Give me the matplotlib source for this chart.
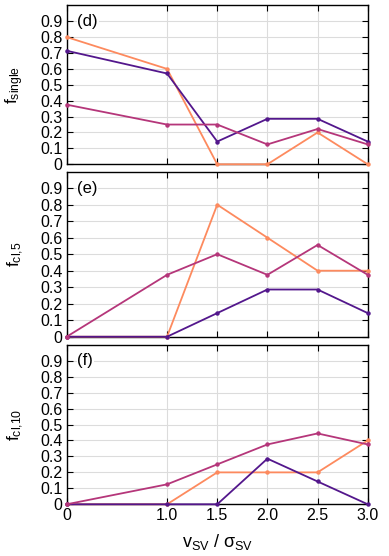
import numpy as np
import matplotlib
matplotlib.use("Agg")
import matplotlib.pyplot as plt

plt.rcParams["font.family"] = ["Liberation Sans", "DejaVu Sans"]
plt.rcParams["mathtext.fontset"] = "custom"
plt.rcParams["mathtext.rm"] = "Liberation Sans"
plt.rcParams["mathtext.it"] = "Liberation Sans"

# x values (v_SV / sigma_SV)
x = [0, 1.0, 1.5, 2.0, 2.5, 3.0]
xtick_labels = ["0", "1.0", "1.5", "2.0", "2.5", "3.0"]

# panel (d): f_single
d_orange = [0.8, 0.6, 0.0, 0.0, 0.2, 0.0]
d_purple = [0.714, 0.571, 0.143, 0.286, 0.286, 0.143]
d_magenta = [0.375, 0.25, 0.25, 0.125, 0.222, 0.125]

# panel (e): f_cl,5
e_orange = [0.0, 0.0, 0.8, 0.6, 0.4, 0.4]
e_purple = [0.0, 0.0, 0.143, 0.286, 0.286, 0.143]
e_magenta = [0.0, 0.375, 0.5, 0.375, 0.556, 0.375]

# panel (f): f_cl,10
f_orange = [0.0, 0.0, 0.2, 0.2, 0.2, 0.4]
f_purple = [0.0, 0.0, 0.0, 0.286, 0.143, 0.0]
f_magenta = [0.0, 0.125, 0.25, 0.375, 0.444, 0.375]

panels = [
    ("(d)", r"f$_{\mathrm{single}}$", d_orange, d_purple, d_magenta),
    ("(e)", r"f$_{\mathrm{cl{,}5}}$", e_orange, e_purple, e_magenta),
    ("(f)", r"f$_{\mathrm{cl{,}10}}$", f_orange, f_purple, f_magenta),
]

c_orange = "#fd8a5e"
c_purple = "#53178c"
c_magenta = "#b5367a"

fig = plt.figure(figsize=(3.89, 5.56), dpi=100)
rects = [
    [0.1714, 0.7045, 0.774, 0.286],
    [0.1714, 0.3944, 0.774, 0.2968],
    [0.1714, 0.0930, 0.774, 0.287],
]

for i, (tag, ylab, yo, yp, ym) in enumerate(panels):
    ax = fig.add_axes(rects[i])
    for ys, c in [(yo, c_orange), (yp, c_purple), (ym, c_magenta)]:
        ax.plot(x, ys, color=c, lw=1.3, marker="o", ms=2.2, zorder=3, clip_on=False)
    ax.set_xlim(0, 3.0)
    ax.set_ylim(0, 1.0)
    ax.set_yticks(np.arange(0, 1.0, 0.1))
    ax.set_yticklabels(["0"] + ["%.1f" % v for v in np.arange(0.1, 0.95, 0.1)])
    ax.set_xticks(x)
    ax.grid(True, color="#dcdcdc", lw=0.8, zorder=0)
    ax.tick_params(direction="in", length=4, width=0.8, top=True, right=True,
                   labelsize=11.5, pad=3)
    for s in ax.spines.values():
        s.set_linewidth(1.0)
    ax.set_ylabel(ylab, fontsize=12.5)
    ax.yaxis.set_label_coords(-0.135, 0.5)
    ax.text(0.035, 0.9, tag, transform=ax.transAxes, fontsize=12, va="center", ha="left",
            bbox=dict(facecolor="white", edgecolor="none", pad=0.5))
    if i < 2:
        ax.set_xticklabels([])
    else:
        ax.set_xticklabels(xtick_labels)
        ax.set_xlabel(r"v$_{\mathrm{SV}}$ / $\sigma_{\mathrm{SV}}$", fontsize=13, labelpad=6)

fig.savefig("out.png", dpi=100)
